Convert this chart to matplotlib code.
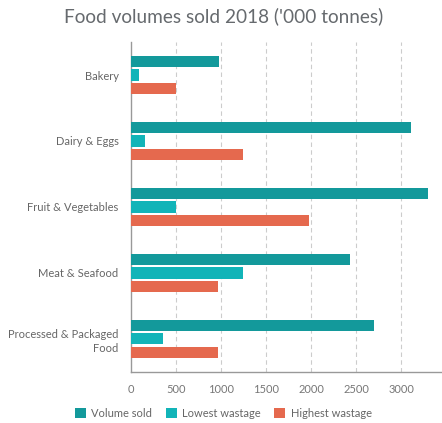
import matplotlib
matplotlib.use("Agg")
import matplotlib.pyplot as plt
import numpy as np

categories = ["Bakery", "Dairy & Eggs", "Fruit & Vegetables", "Meat & Seafood", "Processed & Packaged\nFood"]
volume_sold = [980, 3110, 3300, 2430, 2700]
lowest_wastage = [90, 150, 500, 1240, 360]
highest_wastage = [500, 1240, 1980, 970, 970]
series_names = ["Volume sold", "Lowest wastage", "Highest wastage"]
colors = ["#13999b", "#12b4b8", "#e5694e"]
xticks = [0, 500, 1000, 1500, 2000, 2500, 3000]

plt.rcParams['font.family'] = ['Lato', 'DejaVu Sans']

fig = plt.figure(figsize=(4.42, 4.23), dpi=100)
ax = fig.add_axes([0.2964, 0.1206, 0.7036, 0.7801])

y = np.arange(len(categories))
h = 0.167
step = 0.207
for i, (vals, c, name) in enumerate(zip([volume_sold, lowest_wastage, highest_wastage], colors, series_names)):
    ax.barh(y + (i - 1) * step, vals, height=h, color=c, label=name, zorder=3)

ax.set_ylim(len(categories) - 0.5, -0.5)
ax.set_xlim(0, 3450)
ax.set_yticks(y)
ax.set_yticklabels(categories, fontsize=8, color="#666666", linespacing=1.3)
ax.set_xticks(xticks)
ax.set_xticklabels([str(t) for t in xticks], fontsize=8, color="#777777")
ax.tick_params(axis="both", length=0)
ax.tick_params(axis="x", pad=9)
ax.tick_params(axis="y", pad=9)

for t in xticks[1:]:
    ax.axvline(t, color="#cccccc", linestyle=(0, (4, 3)), linewidth=0.8, zorder=1)

for s in ["top", "right"]:
    ax.spines[s].set_visible(False)
for s in ["left", "bottom"]:
    ax.spines[s].set_color("#999999")
    ax.spines[s].set_linewidth(1.0)

fig.text(0.505, 0.962, "Food volumes sold 2018 ('000 tonnes)", ha="center", va="center",
         fontsize=13.7, color="#666a6e")

fig.legend(loc="center", bbox_to_anchor=(0.505, 0.022), ncol=3, frameon=False,
           fontsize=8, handlelength=1.0, handleheight=1.0, handletextpad=0.5,
           columnspacing=1.2, labelcolor="#666666")

fig.savefig("out.png", dpi=100)
